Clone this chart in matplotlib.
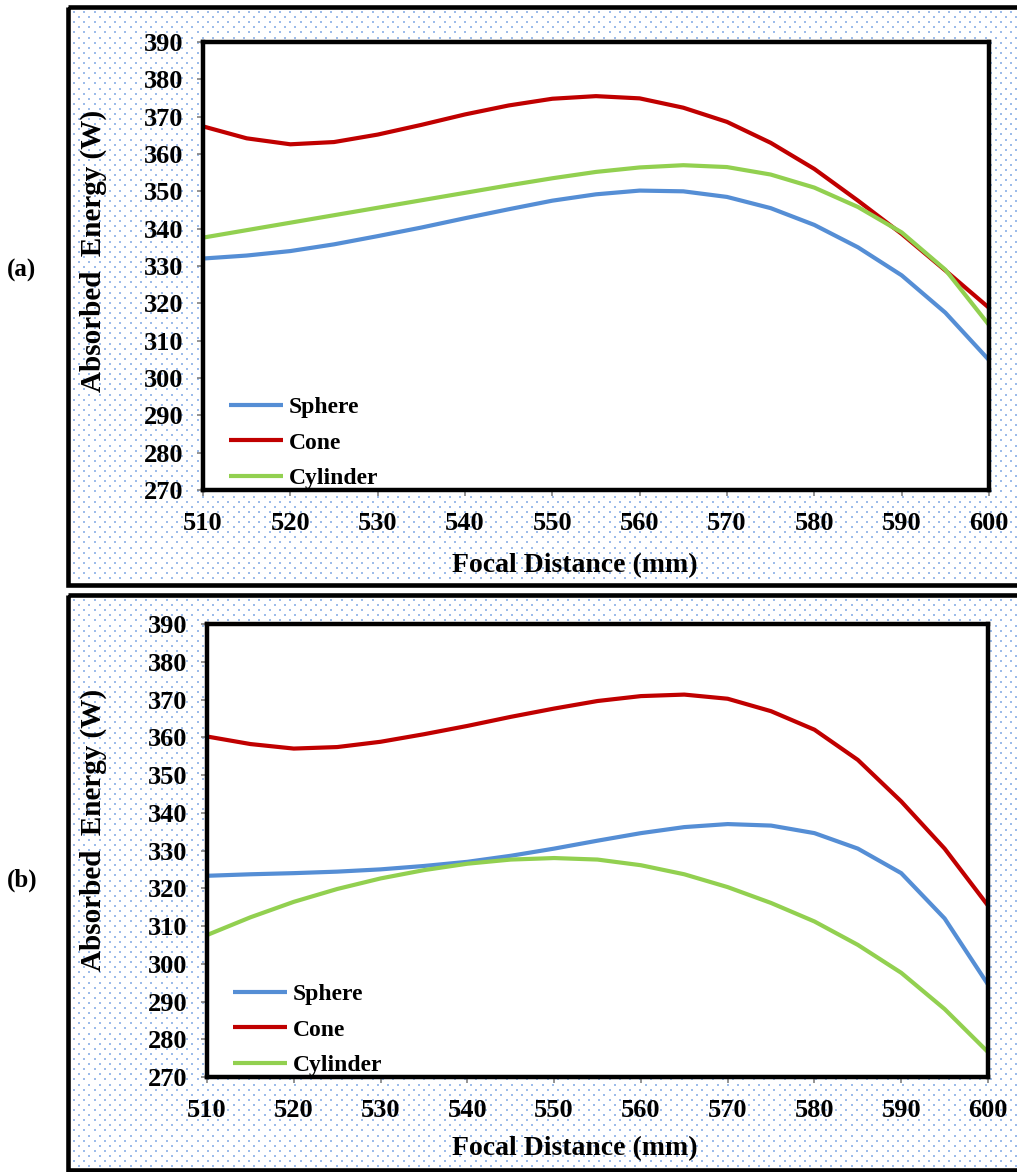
import numpy as np
import matplotlib
matplotlib.use('Agg')
import matplotlib.pyplot as plt
from matplotlib.patches import Rectangle

plt.rcParams['font.family'] = 'Liberation Serif'
plt.rcParams['font.weight'] = 'bold'

focal = [510, 515, 520, 525, 530, 535, 540, 545, 550, 555,
         560, 565, 570, 575, 580, 585, 590, 595, 600]

# panel (a)
sphere_a = [332.0, 332.8, 334.0, 335.8, 338.0, 340.3, 342.8, 345.2, 347.5, 349.2,
            350.2, 350.0, 348.5, 345.5, 341.0, 335.0, 327.5, 317.5, 304.8]
cone_a = [367.4, 364.2, 362.6, 363.2, 365.2, 367.8, 370.6, 373.0, 374.8, 375.5,
          374.9, 372.4, 368.6, 363.0, 356.0, 347.5, 338.6, 328.8, 318.8]
cylinder_a = [337.6, 339.6, 341.6, 343.6, 345.6, 347.6, 349.6, 351.6, 353.5, 355.2,
              356.4, 357.0, 356.5, 354.5, 351.0, 345.8, 339.0, 329.0, 314.2]

# panel (b)
sphere_b = [323.3, 323.7, 324.0, 324.4, 325.0, 325.9, 327.0, 328.6, 330.5, 332.6,
            334.6, 336.2, 337.0, 336.6, 334.6, 330.5, 324.0, 312.0, 294.5]
cone_b = [360.2, 358.2, 357.0, 357.4, 358.8, 360.8, 363.0, 365.4, 367.6, 369.6,
          370.9, 371.3, 370.2, 366.9, 362.0, 354.0, 343.0, 330.5, 315.4]
cylinder_b = [307.6, 312.3, 316.4, 319.8, 322.6, 324.8, 326.5, 327.6, 328.0, 327.6,
              326.1, 323.7, 320.3, 316.1, 311.2, 305.0, 297.6, 288.0, 276.6]

series_names = ['Sphere', 'Cone', 'Cylinder']
colors = ['#558ED5', '#C00000', '#92D050']
panel_labels = ['(a)', '(b)']
xticks = list(range(510, 601, 10))
yticks = list(range(270, 391, 10))

W, H = 1017, 1172
fig = plt.figure(figsize=(W / 100, H / 100), dpi=100)

# dotted background panels drawn in pixel coordinates
bg = fig.add_axes([0, 0, 1, 1])
bg.set_xlim(0, W)
bg.set_ylim(H, 0)
bg.axis('off')
for top, bottom in [(7, 585), (595, 1170)]:
    xs = []
    ys = []
    row = 0
    for yy in np.arange(top + 5, bottom - 2, 5.1):
        off = 0 if row % 2 == 0 else 5.15
        for xx in np.arange(74 + off, W, 10.3):
            xs.append(xx)
            ys.append(yy)
        row += 1
    bg.scatter(xs, ys, s=1.0, c='#9DBCEA', marker='s', linewidths=0)
    bg.add_patch(Rectangle((68, top), W, bottom - top, fill=False,
                           edgecolor='black', linewidth=3.3))

panels = [
    ([203, 42, 989, 490], [sphere_a, cone_a, cylinder_a], 270,
     (-0.122, 0.533), (0.473, -0.14)),
    ([207, 624, 988, 1077], [sphere_b, cone_b, cylinder_b], 880,
     (-0.128, 0.546), (0.471, -0.13)),
]

for i, (box, data, label_y, ylab_xy, xlab_xy) in enumerate(panels):
    x0, y0, x1, y1 = box
    ax = fig.add_axes([x0 / W, 1 - y1 / H, (x1 - x0) / W, (y1 - y0) / H])
    ax.set_facecolor('white')
    for name, vals, c in zip(series_names, data, colors):
        ax.plot(focal, vals, color=c, linewidth=3.0, label=name,
                solid_capstyle='butt')
    ax.set_xlim(510, 600)
    ax.set_ylim(270, 390)
    ax.set_xticks(xticks)
    ax.set_yticks(yticks)
    ax.tick_params(direction='out', length=4, width=1.2, color='#808080',
                   labelsize=19)
    ax.tick_params(axis='x', pad=12)
    ax.tick_params(axis='y', pad=10)
    for lab in ax.get_xticklabels() + ax.get_yticklabels():
        lab.set_fontweight('bold')
    for s in ax.spines.values():
        s.set_linewidth(3.2)
        s.set_color('black')
    ax.set_xlabel('Focal Distance (mm)', fontsize=20, fontweight='bold')
    ax.set_ylabel('Absorbed  Energy (W)', fontsize=21, fontweight='bold')
    ax.yaxis.set_label_coords(*ylab_xy)
    ax.xaxis.set_label_coords(*xlab_xy)
    ax.legend(loc='lower left', bbox_to_anchor=(0.015, -0.03), frameon=False,
              prop={'size': 17, 'weight': 'bold'}, handlelength=2.3,
              handletextpad=0.25, labelspacing=0.6, borderaxespad=0.2)
    fig.text(7 / W, 1 - label_y / H, panel_labels[i], fontsize=18,
             fontweight='bold', va='center', ha='left')

fig.savefig('out.png', dpi=100)
